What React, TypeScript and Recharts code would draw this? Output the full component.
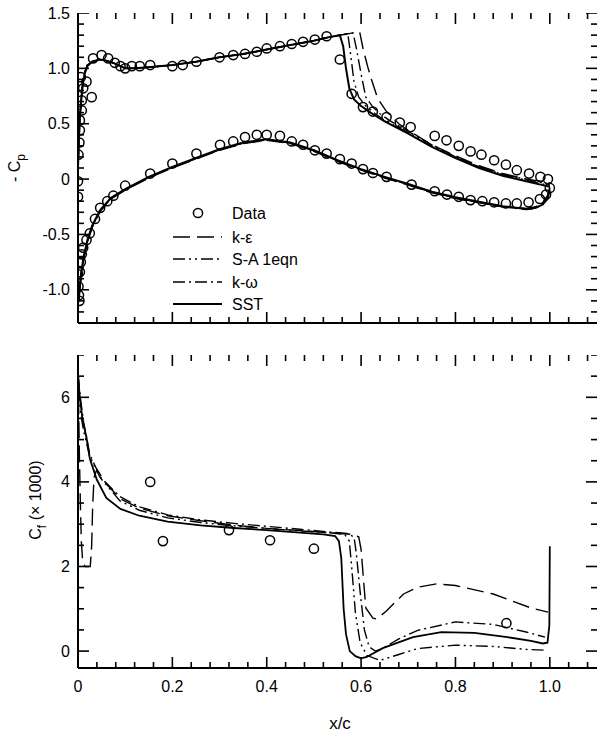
import React from 'react';
import { ComposedChart, Line, Scatter, XAxis, YAxis, Legend } from 'recharts';

const FONT = '"Liberation Sans", Arial, Helvetica, sans-serif';

// ---------- tick values / labels ----------
const X_TICKS = [0, 0.04, 0.08, 0.12, 0.16, 0.2, 0.24, 0.28, 0.32, 0.36, 0.4, 0.44, 0.48, 0.52, 0.56, 0.6, 0.64, 0.68, 0.72, 0.76, 0.8, 0.84, 0.88, 0.92, 0.96, 1.0, 1.04, 1.08];
const X_MAJOR = [0, 0.2, 0.4, 0.6, 0.8, 1.0];
const X_LABELS = ['0', '0.2', '0.4', '0.6', '0.8', '1.0'];
const X_DOMAIN = [0, 1.1];

const CP_DOMAIN = [-1.3, 1.5];
const CP_TICKS = [-1.3, -1.2, -1.1, -1.0, -0.9, -0.8, -0.7, -0.6, -0.5, -0.4, -0.3, -0.2, -0.1, 0, 0.1, 0.2, 0.3, 0.4, 0.5, 0.6, 0.7, 0.8, 0.9, 1.0, 1.1, 1.2, 1.3, 1.4, 1.5];
const CP_MAJOR = [-1.0, -0.5, 0, 0.5, 1.0, 1.5];
const CP_LABELS = ['-1.0', '-0.5', '0', '0.5', '1.0', '1.5'];

const CF_DOMAIN = [-0.4, 7];
const CF_TICKS = [0, 0.5, 1, 1.5, 2, 2.5, 3, 3.5, 4, 4.5, 5, 5.5, 6, 6.5, 7];
const CF_MAJOR = [0, 2, 4, 6];
const CF_LABELS = ['0', '2', '4', '6'];

const LEGEND_NAMES = ['Data', 'k-\u03b5', 'S-A 1eqn', 'k-\u03c9', 'SST'];

// ---------- top panel: -Cp ----------
const cpData = [
  [0.001, 0.22], [0.003, 0.33], [0.004, 0.44], [0.004, 0.53], [0.008, 0.62], [0.008, 0.71], [0.011, 0.82], [0.006, 0.92], [0.018, 0.88], [0.029, 0.74],
  [0.032, 1.09], [0.05, 1.12], [0.064, 1.09], [0.078, 1.05], [0.09, 1.02], [0.1, 1.0], [0.114, 1.02], [0.131, 1.02], [0.153, 1.03], [0.2, 1.02],
  [0.222, 1.03], [0.251, 1.06], [0.3, 1.1], [0.329, 1.12], [0.354, 1.13], [0.379, 1.15], [0.4, 1.18], [0.428, 1.2], [0.453, 1.22], [0.477, 1.24],
  [0.502, 1.26], [0.527, 1.29], [0.555, 1.08], [0.58, 0.77], [0.604, 0.65], [0.625, 0.61], [0.654, 0.56], [0.682, 0.51], [0.705, 0.47], [0.756, 0.39],
  [0.781, 0.35], [0.807, 0.3], [0.832, 0.25], [0.855, 0.22], [0.882, 0.17], [0.907, 0.13], [0.93, 0.08], [0.956, 0.05], [0.98, 0.02], [0.996, 0.0],
  [0.0, -0.02], [0.0, -0.16], [0.0, -0.86], [0.001, -0.97], [0.002, -1.05], [0.003, -1.1], [0.004, -0.84], [0.006, -0.75], [0.008, -0.68], [0.011, -0.62],
  [0.018, -0.55], [0.025, -0.49], [0.036, -0.36], [0.047, -0.26], [0.062, -0.2], [0.075, -0.15], [0.1, -0.06], [0.153, 0.05], [0.2, 0.14], [0.251, 0.23],
  [0.301, 0.31], [0.329, 0.34], [0.354, 0.38], [0.379, 0.4], [0.4, 0.4], [0.428, 0.39], [0.453, 0.34], [0.477, 0.31], [0.502, 0.26], [0.527, 0.23],
  [0.555, 0.18], [0.58, 0.14], [0.604, 0.09], [0.625, 0.055], [0.654, 0.02], [0.707, -0.05], [0.756, -0.11], [0.782, -0.14], [0.807, -0.16], [0.832, -0.19],
  [0.857, -0.2], [0.882, -0.21], [0.907, -0.22], [0.93, -0.22], [0.955, -0.21], [0.979, -0.18], [0.992, -0.14], [1.0, -0.08],
];

const cpSST = [
  [1.0, -0.1], [0.995, -0.18], [0.985, -0.23], [0.97, -0.26], [0.95, -0.27], [0.9, -0.245], [0.85, -0.205], [0.8, -0.165], [0.75, -0.115], [0.7, -0.045],
  [0.65, 0.02], [0.6, 0.09], [0.55, 0.17], [0.5, 0.26], [0.45, 0.33], [0.4, 0.36], [0.35, 0.33], [0.3, 0.27], [0.25, 0.19], [0.2, 0.11],
  [0.15, 0.02], [0.1, -0.09], [0.07, -0.17], [0.047, -0.28], [0.03, -0.42], [0.02, -0.55], [0.012, -0.7], [0.007, -0.84], [0.004, -0.97], [0.002, -1.07],
  [0.0, -1.12], [0.0, 0.1], [0.002, 0.35], [0.004, 0.55], [0.007, 0.72], [0.01, 0.85], [0.014, 0.95], [0.02, 1.02], [0.03, 1.06], [0.045, 1.08],
  [0.06, 1.07], [0.08, 1.04], [0.1, 1.0], [0.12, 1.0], [0.15, 1.01], [0.2, 1.03], [0.25, 1.06], [0.3, 1.1], [0.35, 1.13], [0.4, 1.17],
  [0.45, 1.21], [0.5, 1.25], [0.53, 1.28], [0.555, 1.3], [0.562, 1.2], [0.568, 1.0], [0.575, 0.82], [0.585, 0.72], [0.6, 0.66], [0.62, 0.6],
  [0.65, 0.52], [0.7, 0.41], [0.75, 0.29], [0.8, 0.19], [0.85, 0.1], [0.9, 0.03], [0.95, -0.02], [0.98, -0.05], [1.0, -0.07],
];
const cpSA = [
  [1.0, -0.09], [0.995, -0.17], [0.985, -0.23], [0.97, -0.265], [0.95, -0.275], [0.9, -0.25], [0.85, -0.21], [0.8, -0.17], [0.75, -0.12], [0.7, -0.05],
  [0.65, 0.015], [0.6, 0.085], [0.55, 0.165], [0.5, 0.255], [0.45, 0.325], [0.4, 0.355], [0.35, 0.325], [0.3, 0.265], [0.25, 0.185], [0.2, 0.105],
  [0.15, 0.015], [0.1, -0.095], [0.07, -0.175], [0.047, -0.285], [0.03, -0.43], [0.02, -0.56], [0.012, -0.71], [0.007, -0.85], [0.004, -0.98], [0.002, -1.08],
  [0.0, -1.12], [0.0, 0.1], [0.002, 0.36], [0.004, 0.56], [0.007, 0.73], [0.01, 0.86], [0.014, 0.96], [0.02, 1.03], [0.03, 1.06], [0.045, 1.08],
  [0.06, 1.07], [0.08, 1.04], [0.1, 1.0], [0.12, 1.0], [0.15, 1.01], [0.2, 1.03], [0.25, 1.06], [0.3, 1.1], [0.35, 1.13], [0.4, 1.17],
  [0.45, 1.21], [0.5, 1.25], [0.53, 1.28], [0.555, 1.3], [0.572, 1.31], [0.578, 1.12], [0.585, 0.88], [0.595, 0.74], [0.61, 0.66], [0.63, 0.59],
  [0.65, 0.53], [0.7, 0.42], [0.75, 0.3], [0.8, 0.2], [0.85, 0.11], [0.9, 0.04], [0.95, -0.01], [0.98, -0.04], [1.0, -0.06],
];
const cpKW = [
  [1.0, -0.08], [0.995, -0.16], [0.985, -0.22], [0.97, -0.26], [0.95, -0.27], [0.9, -0.25], [0.85, -0.21], [0.8, -0.17], [0.75, -0.12], [0.7, -0.05],
  [0.65, 0.015], [0.6, 0.085], [0.55, 0.165], [0.5, 0.255], [0.45, 0.325], [0.4, 0.355], [0.35, 0.325], [0.3, 0.265], [0.25, 0.185], [0.2, 0.105],
  [0.15, 0.015], [0.1, -0.095], [0.07, -0.175], [0.047, -0.285], [0.03, -0.43], [0.02, -0.56], [0.012, -0.71], [0.007, -0.85], [0.004, -0.98], [0.002, -1.08],
  [0.0, -1.12], [0.0, 0.1], [0.002, 0.36], [0.004, 0.56], [0.007, 0.73], [0.01, 0.86], [0.014, 0.96], [0.02, 1.03], [0.03, 1.06], [0.045, 1.08],
  [0.06, 1.07], [0.08, 1.04], [0.1, 1.0], [0.12, 1.0], [0.15, 1.01], [0.2, 1.03], [0.25, 1.06], [0.3, 1.1], [0.35, 1.13], [0.4, 1.17],
  [0.45, 1.21], [0.5, 1.25], [0.53, 1.28], [0.555, 1.3], [0.583, 1.32], [0.59, 1.18], [0.6, 0.95], [0.61, 0.74], [0.625, 0.65], [0.64, 0.59],
  [0.66, 0.53], [0.7, 0.43], [0.75, 0.31], [0.8, 0.2], [0.85, 0.11], [0.9, 0.04], [0.95, 0.0], [0.98, -0.03], [1.0, -0.05],
];
const cpKE = [
  [1.0, -0.07], [0.995, -0.15], [0.985, -0.21], [0.97, -0.25], [0.95, -0.265], [0.9, -0.25], [0.85, -0.215], [0.8, -0.175], [0.75, -0.125], [0.7, -0.055],
  [0.65, 0.01], [0.6, 0.08], [0.55, 0.16], [0.5, 0.25], [0.45, 0.32], [0.4, 0.35], [0.35, 0.32], [0.3, 0.26], [0.25, 0.18], [0.2, 0.1],
  [0.15, 0.01], [0.1, -0.1], [0.07, -0.18], [0.047, -0.29], [0.03, -0.44], [0.02, -0.57], [0.012, -0.72], [0.007, -0.86], [0.004, -0.99], [0.002, -1.09],
  [0.0, -1.13], [0.0, 0.1], [0.002, 0.36], [0.004, 0.56], [0.007, 0.73], [0.01, 0.86], [0.014, 0.96], [0.02, 1.03], [0.03, 1.06], [0.045, 1.08],
  [0.06, 1.07], [0.08, 1.04], [0.1, 1.0], [0.12, 1.0], [0.15, 1.01], [0.2, 1.03], [0.25, 1.06], [0.3, 1.1], [0.35, 1.13], [0.4, 1.17],
  [0.45, 1.21], [0.5, 1.25], [0.53, 1.28], [0.555, 1.3], [0.597, 1.33], [0.605, 1.16], [0.615, 1.0], [0.622, 0.9], [0.635, 0.73], [0.654, 0.61],
  [0.68, 0.5], [0.7, 0.44], [0.75, 0.31], [0.8, 0.21], [0.85, 0.12], [0.9, 0.05], [0.95, 0.0], [0.98, -0.02], [1.0, -0.04],
];

// ---------- bottom panel: Cf x 1000 ----------
const cfData = [[0.153, 4.0], [0.18, 2.6], [0.32, 2.86], [0.407, 2.62], [0.5, 2.42], [0.908, 0.66]];

const cfSST = [
  [0.001, 6.4], [0.003, 6.1], [0.006, 5.8], [0.01, 5.45], [0.018, 5.05], [0.025, 4.55], [0.04, 4.05], [0.06, 3.62], [0.09, 3.36], [0.13, 3.2],
  [0.19, 3.06], [0.26, 2.97], [0.33, 2.91], [0.4, 2.86], [0.47, 2.8], [0.52, 2.76], [0.545, 2.72], [0.553, 2.6], [0.558, 2.2], [0.563, 1.0],
  [0.568, 0.4], [0.576, 0.0], [0.588, -0.12], [0.6, -0.17], [0.612, -0.14], [0.646, 0.07], [0.71, 0.33], [0.77, 0.45], [0.84, 0.43], [0.91, 0.33],
  [0.96, 0.24], [0.985, 0.18], [0.995, 0.2], [0.999, 0.6], [1.0, 2.48],
];
const cfSA = [
  [0.001, 6.2], [0.003, 5.9], [0.006, 5.6], [0.012, 5.2], [0.025, 4.6], [0.047, 4.1], [0.089, 3.55], [0.13, 3.33], [0.19, 3.15], [0.26, 3.04],
  [0.33, 2.96], [0.4, 2.9], [0.47, 2.84], [0.53, 2.8], [0.565, 2.76], [0.575, 2.6], [0.58, 2.0], [0.588, 0.9], [0.598, 0.2], [0.612, -0.1],
  [0.64, -0.22], [0.68, -0.08], [0.72, 0.06], [0.8, 0.14], [0.88, 0.11], [0.95, 0.04], [0.99, 0.02],
];
const cfKW = [
  [0.001, 6.5], [0.003, 6.2], [0.006, 5.9], [0.012, 5.4], [0.025, 4.65], [0.047, 4.12], [0.089, 3.65], [0.13, 3.41], [0.19, 3.22], [0.26, 3.1],
  [0.33, 3.02], [0.4, 2.95], [0.47, 2.88], [0.53, 2.82], [0.57, 2.78], [0.585, 2.7], [0.59, 2.3], [0.598, 1.4], [0.607, 0.5], [0.617, 0.1],
  [0.63, 0.0], [0.645, 0.06], [0.68, 0.29], [0.72, 0.49], [0.8, 0.69], [0.88, 0.63], [0.95, 0.45], [0.99, 0.33],
];
const cfKE = [
  [0.001, 6.0], [0.003, 4.6], [0.005, 3.5], [0.007, 2.6], [0.01, 2.1], [0.015, 2.0], [0.026, 2.0], [0.029, 2.5], [0.031, 3.4], [0.034, 4.1],
  [0.04, 4.3], [0.06, 3.95], [0.09, 3.6], [0.13, 3.38], [0.19, 3.2], [0.26, 3.08], [0.33, 2.98], [0.4, 2.9], [0.47, 2.85], [0.53, 2.8],
  [0.58, 2.76], [0.595, 2.7], [0.6, 2.4], [0.61, 1.02], [0.625, 0.78], [0.633, 0.76], [0.653, 0.94], [0.69, 1.35], [0.72, 1.51], [0.76, 1.59],
  [0.8, 1.55], [0.88, 1.35], [0.96, 1.02], [0.996, 0.92],
];

const pts = (a: number[][]) => a.map(([x, y]) => ({ x, y }));

// ---------- styles ----------
const DASH_KE = '17 7';
const DASH_SA = '12 4 2 4 2 4';
const DASH_KW = '12 4 2 4';
const AXIS_LINE = { stroke: '#000', strokeWidth: 2 };
const MAJ = 11;
const MIN = 6;

const findMajor = (v: number, majors: number[]) => majors.findIndex((m) => Math.abs(m - v) < 1e-6);

// tick marks are placed as points on the frame through the chart scales
const xTickPts = (yEdge: number) => X_TICKS.map((v) => ({ x: v, y: yEdge, m: findMajor(v, X_MAJOR) >= 0 ? 1 : 0 }));
const yTickPts = (xEdge: number, ticks: number[], majors: number[]) => ticks.map((v) => ({ x: xEdge, y: v, m: findMajor(v, majors) >= 0 ? 1 : 0 }));

function tickShape(dir: 'up' | 'down' | 'right' | 'left') {
  return (p: any) => {
    const L = p.payload && p.payload.m ? MAJ : MIN;
    const cx = Number(p.cx);
    const cy = Number(p.cy);
    let d = '';
    if (dir === 'up') d = `M${cx},${cy}L${cx},${cy - L}`;
    if (dir === 'down') d = `M${cx},${cy}L${cx},${cy + L}`;
    if (dir === 'right') d = `M${cx},${cy}L${cx + L},${cy}`;
    if (dir === 'left') d = `M${cx},${cy}L${cx - L},${cy}`;
    return <path d={d} stroke="#000" strokeWidth={1.6} fill="none" />;
  };
}

const noLabel = () => <g />;

function bottomLabel(majors: number[], labels: string[]) {
  return (props: any) => {
    const idx = findMajor(Number(props.payload.value), majors);
    if (idx < 0) return <g />;
    return (
      <text x={Number(props.x)} y={Number(props.y) + 24} textAnchor="middle" fontSize={16} fontFamily={FONT} fill="#000">
        {labels[idx]}
      </text>
    );
  };
}
function leftLabel(majors: number[], labels: string[]) {
  return (props: any) => {
    const idx = findMajor(Number(props.payload.value), majors);
    if (idx < 0) return <g />;
    return (
      <text x={Number(props.x) - 8} y={Number(props.y)} dy="0.35em" textAnchor="end" fontSize={16} fontFamily={FONT} fill="#000">
        {labels[idx]}
      </text>
    );
  };
}

const circleShape = (p: any) => (
  <circle cx={p.cx} cy={p.cy} r={4.6} fill="none" stroke="#000" strokeWidth={1.5} />
);

const CpTitle = () => (
  <text transform="translate(20,168) rotate(-90)" textAnchor="middle" fontSize={16} fontFamily={FONT} fill="#000">
    <tspan>- C</tspan>
    <tspan fontSize={12} dy={5}>p</tspan>
  </text>
);

const CF_TITLE_REST = ' (\u00d7 1000)';
const CfTitle = () => (
  <text transform="translate(41,160) rotate(-90)" textAnchor="middle" fontSize={16} fontFamily={FONT} fill="#000">
    <tspan>C</tspan>
    <tspan fontSize={12} dy={5}>f</tspan>
    <tspan dy={-5}>{CF_TITLE_REST}</tspan>
  </text>
);

const XTitle = () => (
  <text x={340} y={389} textAnchor="middle" fontSize={17} fontFamily={FONT} fill="#000">
    x/c
  </text>
);

const LegendBox = () => {
  const rows = [
    { dash: null as string | null, w: 0 },
    { dash: DASH_KE, w: 1.5 },
    { dash: DASH_SA, w: 1.5 },
    { dash: DASH_KW, w: 1.5 },
    { dash: '', w: 2 },
  ];
  const ys = [13, 37, 59, 82, 104];
  return (
    <svg width={170} height={115} style={{ display: 'block' }}>
      {rows.map((r, i) => (
        <g key={i}>
          {i === 0 ? (
            <circle cx={33} cy={ys[i]} r={4.6} fill="none" stroke="#000" strokeWidth={1.5} />
          ) : (
            <line x1={8} x2={57} y1={ys[i]} y2={ys[i]} stroke="#000" strokeWidth={r.w} strokeDasharray={r.dash || undefined} />
          )}
          <text x={67} y={ys[i]} dy="0.36em" fontSize={16} fontFamily={FONT} fill="#000">
            {LEGEND_NAMES[i]}
          </text>
        </g>
      ))}
    </svg>
  );
};

function panelAxes(yDomain: number[], yMajor: number[], yLabels: string[], xLabels: string[] | null, bottomH: number, xTitle: any) {
  return [
    <XAxis key="xb" xAxisId="b" dataKey="x" type="number" domain={X_DOMAIN} ticks={X_MAJOR} interval={0}
      tick={xLabels ? bottomLabel(X_MAJOR, xLabels) : noLabel} tickSize={0} tickMargin={0} tickLine={false}
      height={bottomH} axisLine={AXIS_LINE} allowDataOverflow orientation="bottom" stroke="#000" label={xTitle} />,
    <XAxis key="xt" xAxisId="t" type="number" domain={X_DOMAIN} ticks={X_MAJOR} interval={0} tick={noLabel}
      tickSize={0} tickMargin={0} tickLine={false} height={0} axisLine={AXIS_LINE} allowDataOverflow orientation="top" stroke="#000" />,
    <YAxis key="yl" yAxisId="l" dataKey="y" type="number" domain={yDomain} ticks={yMajor} interval={0}
      tick={leftLabel(yMajor, yLabels)} tickSize={0} tickMargin={0} tickLine={false}
      width={78} axisLine={AXIS_LINE} allowDataOverflow orientation="left" stroke="#000" />,
    <YAxis key="yr" yAxisId="r" type="number" domain={yDomain} ticks={yMajor} interval={0} tick={noLabel}
      tickSize={0} tickMargin={0} tickLine={false} width={0} axisLine={AXIS_LINE} allowDataOverflow orientation="right" stroke="#000" />,
  ];
}

function tickSeries(yDomain: number[], yTicks: number[], yMajor: number[]) {
  return [
    <Scatter key="tb" xAxisId="b" yAxisId="l" data={xTickPts(yDomain[0])} dataKey="y" shape={tickShape('up')} isAnimationActive={false} />,
    <Scatter key="tt" xAxisId="b" yAxisId="l" data={xTickPts(yDomain[1])} dataKey="y" shape={tickShape('down')} isAnimationActive={false} />,
    <Scatter key="tl" xAxisId="b" yAxisId="l" data={yTickPts(X_DOMAIN[0], yTicks, yMajor)} dataKey="y" shape={tickShape('right')} isAnimationActive={false} />,
    <Scatter key="tr" xAxisId="b" yAxisId="l" data={yTickPts(X_DOMAIN[1], yTicks, yMajor)} dataKey="y" shape={tickShape('left')} isAnimationActive={false} />,
  ];
}

export default function App() {
  return (
    <div style={{ position: 'absolute', left: 0, top: 0, width: 601, height: 738, background: '#fff' }}>
      <div style={{ position: 'absolute', left: 0, top: 0 }}>
        <ComposedChart width={601} height={340} margin={{ top: 13, right: 4, bottom: 0, left: 0 }}>
          {panelAxes(CP_DOMAIN, CP_MAJOR, CP_LABELS, null, 17, null)}
          {tickSeries(CP_DOMAIN, CP_TICKS, CP_MAJOR)}
          <Line xAxisId="b" yAxisId="l" data={pts(cpKE)} dataKey="y" type="linear" stroke="#000" strokeWidth={1.4} strokeDasharray={DASH_KE} dot={false} isAnimationActive={false} />
          <Line xAxisId="b" yAxisId="l" data={pts(cpSA)} dataKey="y" type="linear" stroke="#000" strokeWidth={1.4} strokeDasharray={DASH_SA} dot={false} isAnimationActive={false} />
          <Line xAxisId="b" yAxisId="l" data={pts(cpKW)} dataKey="y" type="linear" stroke="#000" strokeWidth={1.4} strokeDasharray={DASH_KW} dot={false} isAnimationActive={false} />
          <Line xAxisId="b" yAxisId="l" data={pts(cpSST)} dataKey="y" type="linear" stroke="#000" strokeWidth={2} dot={false} isAnimationActive={false} />
          <Scatter xAxisId="b" yAxisId="l" data={pts(cpData)} dataKey="y" shape={circleShape} isAnimationActive={false} />
          <Legend layout="horizontal" verticalAlign="middle" align="center" content={LegendBox}
            wrapperStyle={{ position: 'absolute', left: 165, top: 200, width: 170, height: 115 }} />
        </ComposedChart>
        <div style={{ position: 'absolute', left: 0, top: 0, pointerEvents: 'none' }}>
          <svg width={60} height={340}><CpTitle /></svg>
        </div>
      </div>
      <div style={{ position: 'absolute', left: 0, top: 340 }}>
        <ComposedChart width={601} height={398} margin={{ top: 15, right: 4, bottom: 0, left: 0 }}>
          {panelAxes(CF_DOMAIN, CF_MAJOR, CF_LABELS, X_LABELS, 70, { value: '', content: XTitle })}
          {tickSeries(CF_DOMAIN, CF_TICKS, CF_MAJOR)}
          <Line xAxisId="b" yAxisId="l" data={pts(cfKE)} dataKey="y" type="linear" stroke="#000" strokeWidth={1.4} strokeDasharray={DASH_KE} dot={false} isAnimationActive={false} />
          <Line xAxisId="b" yAxisId="l" data={pts(cfSA)} dataKey="y" type="linear" stroke="#000" strokeWidth={1.4} strokeDasharray={DASH_SA} dot={false} isAnimationActive={false} />
          <Line xAxisId="b" yAxisId="l" data={pts(cfKW)} dataKey="y" type="linear" stroke="#000" strokeWidth={1.4} strokeDasharray={DASH_KW} dot={false} isAnimationActive={false} />
          <Line xAxisId="b" yAxisId="l" data={pts(cfSST)} dataKey="y" type="linear" stroke="#000" strokeWidth={1.8} dot={false} isAnimationActive={false} />
          <Scatter xAxisId="b" yAxisId="l" data={pts(cfData)} dataKey="y" shape={circleShape} isAnimationActive={false} />
        </ComposedChart>
        <div style={{ position: 'absolute', left: 0, top: 0, pointerEvents: 'none' }}>
          <svg width={60} height={398}><CfTitle /></svg>
        </div>
      </div>
    </div>
  );
}
